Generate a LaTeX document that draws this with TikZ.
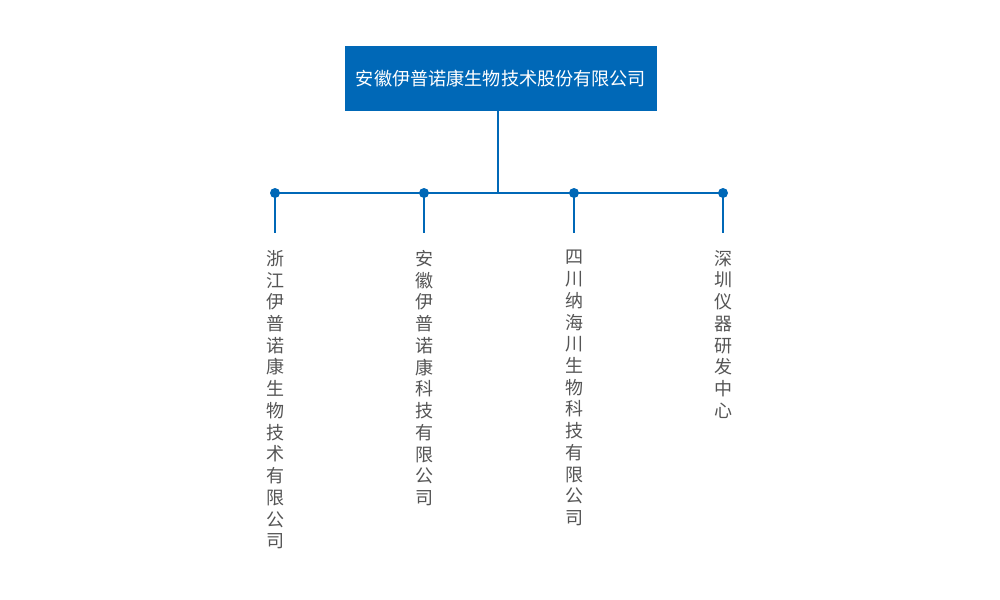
\documentclass[tikz,border=0pt]{standalone}
\usepackage{fontspec}
\newfontfamily\cjk{Noto Sans CJK SC}
\usetikzlibrary{positioning}
\definecolor{corpblue}{RGB}{0,104,183}
\definecolor{labelgray}{RGB}{85,85,85}
\tikzset{
	company/.style={fill=corpblue,text=white,minimum width=234pt,minimum height=48.75pt,inner sep=0,font=\cjk\fontsize{13.6}{16}\selectfont},
	branch/.style={anchor=north,inner sep=0,align=center,text=labelgray,font=\cjk\fontsize{13.5}{16.3}\selectfont},
	link/.style={draw=corpblue,line width=1.5pt},
	joint/.style={circle,fill=corpblue,inner sep=0,minimum size=7.5pt}
}

\begin{document}
\begin{tikzpicture}[x=0.75pt,y=-0.75pt]
			\useasboundingbox (0,0) rectangle (1000,600);
			\node[company] (head) at (501,78.5) {安徽伊普诺康生物技术股份有限公司};
			\coordinate (mid) at (498,193);
			\draw[link] (head.south -| mid) -- (mid);
			% branches
			\node[joint] (j1) at (275,193) {};
			\node[joint] (j2) at (424,193) {};
			\node[joint] (j3) at (574,193) {};
			\node[joint] (j4) at (723,193) {};
			\draw[link] (j1.center) -- (j4.center);
			\foreach \i in {1,...,4}
				\draw[link] (j\i.center) -- ++(0,40) coordinate (e\i);
			\node[branch] (zj) at (275,250) {浙\\江\\伊\\普\\诺\\康\\生\\物\\技\\术\\有\\限\\公\\司};
			\node[branch] (ah) at (424,250) {安\\徽\\伊\\普\\诺\\康\\科\\技\\有\\限\\公\\司};
			\node[branch] (sc) at (574,250) {四\\川\\纳\\海\\川\\生\\物\\科\\技\\有\\限\\公\\司};
			\node[branch] (sz) at (723,250) {深\\圳\\仪\\器\\研\\发\\中\\心};
\end{tikzpicture}
\end{document}
